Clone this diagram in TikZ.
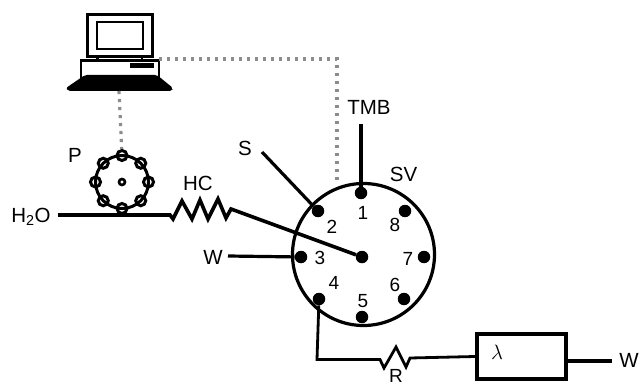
\documentclass[tikz,border=0pt]{standalone}
\usepackage{fontspec}
\setmainfont{Liberation Sans}
\usetikzlibrary{backgrounds,calc}
\tikzset{
    pipe/.style={line width=3.2pt, line join=miter},
    thinpipe/.style={line width=2.8pt, line join=miter},
    signal/.style={line width=3.2pt, dash pattern=on 3.2pt off 4.8pt, color=black!45},
    port/.style={draw=none, fill=black, circle, inner sep=0pt, minimum size=12.5pt},
    ring/.style={draw, line width=3pt, circle, inner sep=0pt, minimum size=10pt},
    lab/.style={inner sep=0pt, font=\fontsize{20.5}{22}\selectfont},
    numlab/.style={inner sep=0pt, font=\fontsize{19}{21}\selectfont}
}
\begin{document}
\begin{tikzpicture}[x=1pt, y=-1pt]
    \useasboundingbox (0,0) rectangle (640,385);
    \def \R {26.5}
    % computer
    \coordinate (cpuA) at (159,59);
    \coordinate (cpuB) at (119,91);
    \coordinate (bend) at (337,59);
    \coordinate (sigEnd) at (337,183);
    \draw[line width=3pt] (87,57) -- (87,15) -- (152,15) -- (152,57) -- cycle;
    \draw[line width=2.6pt] (97,22) rectangle (143,49);
    \draw[line width=2.6pt] (97.5,57) -- (97.5,60) (142,57) -- (142,60);
    \draw[line width=2.6pt] (81,78) -- (81,60.5) -- (159,60.5) -- (159,78);
    \fill (130,63) rectangle (154,68);
    \fill[rounded corners=2pt] (85,75) -- (157,75) -- (173,88) -- (172,91) -- (68,91) -- (66,88) -- cycle;
    % signal lines
    \node[ring] (p1) at ({122+\R*sin(0)},{182-\R*cos(0)}) {};
    \draw[signal] (cpuA) -- (bend) -- (sigEnd);
    \draw[signal] (cpuB) -- (p1);
    % pump
    \node[draw, line width=3pt, circle, inner sep=0pt, minimum size=53pt] (P) at (122,182) {};
    \foreach \i in {2,...,8}{
        \node[ring] (p\i) at ({122+\R*sin(45*(\i-1))},{182-\R*cos(45*(\i-1))}) {};
    }
    \node[ring, minimum size=6pt, line width=2.6pt] (pc) at (122,182) {};
    % valve
    \node[draw, line width=3.2pt, circle, inner sep=0pt, minimum size=142pt] (SVbody) at (363.5,254.5) {};
    \node[port] (v1) at (361,193) {};
    \node[port] (v2) at (318,211) {};
    \node[port] (v3) at (301,257) {};
    \node[port] (v4) at (319,299) {};
    \node[port] (v5) at (362,317) {};
    \node[port] (v6) at (404,299) {};
    \node[port] (v7) at (424,257) {};
    \node[port] (v8) at (405,211) {};
    \node[port] (vc) at (362,257) {};
    \node[numlab] (n1) at (363,213) {1};
    \node[numlab] (n2) at (332,227) {2};
    \node[numlab] (n3) at (320,258) {3};
    \node[numlab] (n4) at (334,283) {4};
    \node[numlab] (n5) at (363,301) {5};
    \node[numlab] (n6) at (395,285) {6};
    \node[numlab] (n7) at (408,259) {7};
    \node[numlab] (n8) at (395,225) {8};
    % inlets
    \coordinate (tmbEnd) at (361,124);
    \coordinate (sEnd) at (262,152);
    \coordinate (wEnd) at (228,256);
    \coordinate (h2oEnd) at (58,215);
    \draw[pipe] (tmbEnd) -- (v1);
    \draw[pipe] (sEnd) -- (v2);
    \draw[pipe] (wEnd) -- (v3);
    \draw[pipe, line width=3.6pt] (h2oEnd) -- (170,215) -- (173,219) -- (182,201) -- (192,219) -- (200,200) -- (208,219) -- (218,199) -- (226,218) -- (231,209) -- (vc);
    % detector
    \node[draw, line width=3.4pt, minimum width=89pt, minimum height=45pt, inner sep=0pt] (det) at (521.5,356.5) {};
    \coordinate (wOut) at (612,361);
    \draw[thinpipe] (v4) -- (317,359.5) -- (380,359.5) -- (384,368) -- (396,347) -- (406,367) -- (410,358) -- (det.west);
    \draw[pipe] (det.east |- wOut) -- (wOut);
    % labels
    \node[lab] (lTMB) at (369,107) {TMB};
    \node[lab] (lS) at (245,148) {S};
    \node[lab] (lSV) at (403.5,174.5) {SV};
    \node[lab] (lW) at (213,257) {W};
    \node[lab] (lP) at (75,155) {P};
    \node[lab] (lHC) at (198,183) {HC};
    \node[lab] (lH) at (31,217) {H\textsubscript{2}O};
    \node[lab, font=\fontsize{19}{19}\selectfont] (lR) at (396,375.5) {R};
    \node[lab] (lW2) at (629,360) {W};
    \node[lab, font=\fontsize{21}{21}\selectfont] (lL) at (497,352) {$\lambda$};
\end{tikzpicture}
\end{document}
